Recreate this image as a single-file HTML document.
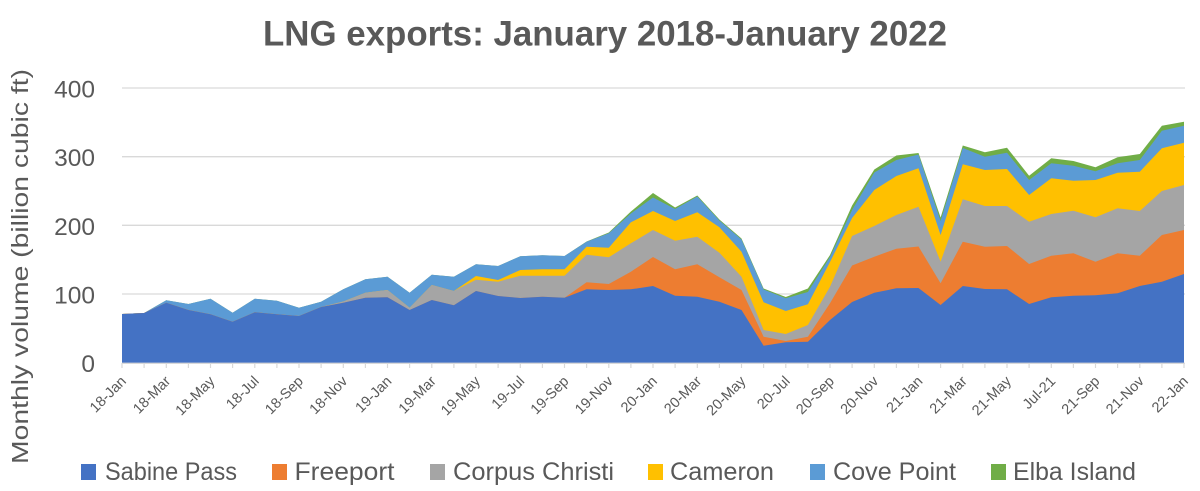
<!DOCTYPE html>
<html>
<head>
<meta charset="utf-8">
<style>
  html, body { margin: 0; padding: 0; background: #ffffff; }
  body { width: 1200px; height: 491px; overflow: hidden; }
  svg { display: block; font-family: "Liberation Sans", sans-serif; }
</style>
</head>
<body>
<svg width="1200" height="491" viewBox="0 0 1200 491" xmlns="http://www.w3.org/2000/svg">
  <rect x="0" y="0" width="1200" height="491" fill="#ffffff"/>

  <!-- Title -->
  <text x="263" y="45.7" font-size="35" font-weight="bold" fill="#595959" textLength="684" lengthAdjust="spacingAndGlyphs">LNG exports: January 2018-January 2022</text>

  <!-- Gridlines -->
  <g stroke="#d9d9d9" stroke-width="1.3">
    <line x1="122" y1="88" x2="1185" y2="88"/>
    <line x1="122" y1="156.7" x2="1185" y2="156.7"/>
    <line x1="122" y1="225.3" x2="1185" y2="225.3"/>
    <line x1="122" y1="294" x2="1185" y2="294"/>
  </g>

  <!-- Y axis labels -->
  <g font-size="24.5" fill="#595959" text-anchor="end">
    <text x="95" y="97.5">400</text>
    <text x="95" y="166.2">300</text>
    <text x="95" y="234.8">200</text>
    <text x="95" y="303.5">100</text>
    <text x="95" y="372">0</text>
  </g>

  <!-- Y axis title -->
  <text transform="translate(28,266.5) rotate(-90)" text-anchor="middle" font-size="23" fill="#595959" textLength="395" lengthAdjust="spacingAndGlyphs">Monthly volume (billion cubic ft)</text>

  <!-- Areas (drawn top cumulative first) -->
  <!-- Elba Island -->
  <polygon fill="#70AD47" points="122,314 144.1,313 166.3,300.3 188.4,304 210.5,298.7 232.6,312.7 254.8,298.7 276.9,300.7 299,307.7 321.1,301.7 343.3,289.3 365.4,279.3 387.5,276.7 409.6,292.7 431.8,274.7 453.9,276.7 476,264.3 498.1,266 520.3,256.3 542.4,255.3 564.5,256 586.6,241.5 608.8,232.5 630.9,211.5 653,193 675.1,207.5 697.3,195.5 719.4,219.5 741.5,238.5 763.6,288.5 785.8,297 807.9,288.5 830,255 852.1,205.5 874.3,169.5 896.4,155.5 918.5,153 940.6,217.5 962.8,145.5 984.9,152.3 1007,147.7 1029.1,175.7 1051.3,158.3 1073.4,161 1095.5,167.3 1117.6,157.3 1139.8,154 1161.9,125.7 1184,121.7 1184,363 122,363"/>
  <!-- Cove Point -->
  <polygon fill="#5B9BD5" points="122,314 144.1,313 166.3,300.3 188.4,304 210.5,298.7 232.6,312.7 254.8,298.7 276.9,300.7 299,307.7 321.1,301.7 343.3,289.3 365.4,279.3 387.5,276.7 409.6,292.7 431.8,274.7 453.9,276.7 476,264.3 498.1,266 520.3,256.3 542.4,255.3 564.5,256 586.6,241.7 608.8,233.3 630.9,213.5 653,197.5 675.1,209 697.3,196.5 719.4,220.5 741.5,239.5 763.6,289.5 785.8,298.3 807.9,292 830,257 852.1,210 874.3,172.5 896.4,160 918.5,154.5 940.6,221 962.8,148 984.9,156.7 1007,152.7 1029.1,180 1051.3,163.3 1073.4,165.7 1095.5,171.2 1117.6,163.3 1139.8,160 1161.9,130.7 1184,125.7 1184,363 122,363"/>
  <!-- Cameron -->
  <polygon fill="#FFC000" points="122,314 144.1,313 166.3,302.7 188.4,310 210.5,314.3 232.6,321.7 254.8,312.3 276.9,314.3 299,316 321.1,307 343.3,301.5 365.4,292.7 387.5,290 409.6,307.7 431.8,285 453.9,291 476,276 498.1,280 520.3,270 542.4,269.3 564.5,269.3 586.6,246.7 608.8,247.7 630.9,222.3 653,211 675.1,221 697.3,212.3 719.4,227.3 741.5,251.7 763.6,302.3 785.8,311 807.9,304.3 830,262 852.1,218 874.3,190 896.4,176 918.5,168.3 940.6,235 962.8,164.3 984.9,170 1007,169 1029.1,195 1051.3,178.3 1073.4,180.7 1095.5,180 1117.6,172.7 1139.8,171.7 1161.9,148.3 1184,142.7 1184,363 122,363"/>
  <!-- Corpus Christi -->
  <polygon fill="#A5A5A5" points="122,314 144.1,313 166.3,302.7 188.4,310 210.5,314.3 232.6,321.7 254.8,312.3 276.9,314.3 299,316 321.1,307 343.3,301.5 365.4,292.7 387.5,290 409.6,307.7 431.8,285 453.9,291 476,279.7 498.1,281.7 520.3,275.7 542.4,275.7 564.5,275.7 586.6,254.7 608.8,257.3 630.9,243.3 653,230 675.1,240.7 697.3,236.7 719.4,252.7 741.5,276.7 763.6,330 785.8,334 807.9,325 830,286.7 852.1,236 874.3,226 896.4,215 918.5,206.7 940.6,261.7 962.8,199.3 984.9,206 1007,206 1029.1,221.7 1051.3,214 1073.4,210.7 1095.5,217.3 1117.6,208.3 1139.8,211 1161.9,191 1184,185 1184,363 122,363"/>
  <!-- Freeport -->
  <polygon fill="#ED7D31" points="122,314 144.1,313 166.3,302.7 188.4,310 210.5,314.3 232.6,321.7 254.8,312.3 276.9,314.3 299,316 321.1,307 343.3,302.7 365.4,297.7 387.5,297.3 409.6,310 431.8,300 453.9,305.3 476,291 498.1,296 520.3,298 542.4,296.7 564.5,297.7 586.6,282.3 608.8,284 630.9,271.7 653,257 675.1,269.3 697.3,264.3 719.4,277.3 741.5,290 763.6,336.7 785.8,341 807.9,336.7 830,303.3 852.1,265.5 874.3,256.7 896.4,248.7 918.5,246.5 940.6,283.3 962.8,241.7 984.9,246.7 1007,246 1029.1,264 1051.3,255.7 1073.4,253.3 1095.5,261.7 1117.6,253.3 1139.8,255.7 1161.9,235 1184,230 1184,363 122,363"/>
  <!-- Sabine Pass -->
  <polygon fill="#4472C4" points="122,314 144.1,313 166.3,302.7 188.4,310 210.5,314.3 232.6,321.7 254.8,312.3 276.9,314.3 299,316 321.1,307 343.3,302.7 365.4,297.7 387.5,297.3 409.6,310 431.8,300 453.9,305.3 476,291 498.1,296 520.3,298 542.4,296.7 564.5,297.7 586.6,289.3 608.8,290 630.9,289.3 653,286 675.1,295.7 697.3,296.7 719.4,301.7 741.5,310 763.6,345.7 785.8,342.3 807.9,341.7 830,320 852.1,302 874.3,292.7 896.4,288.3 918.5,288 940.6,305 962.8,286 984.9,289 1007,289.3 1029.1,304 1051.3,297.3 1073.4,295.7 1095.5,295.3 1117.6,293.3 1139.8,286 1161.9,281.7 1184,274 1184,363 122,363"/>

  <!-- X axis line -->
  <line x1="122" y1="363.3" x2="1185" y2="363.3" stroke="#d9d9d9" stroke-width="1.3"/>
  <!-- Tick marks -->
  <g stroke="#d9d9d9" stroke-width="1.2">
    <line x1="122" y1="363" x2="122" y2="368"/><line x1="144.1" y1="363" x2="144.1" y2="368"/><line x1="166.3" y1="363" x2="166.3" y2="368"/><line x1="188.4" y1="363" x2="188.4" y2="368"/><line x1="210.5" y1="363" x2="210.5" y2="368"/><line x1="232.6" y1="363" x2="232.6" y2="368"/><line x1="254.8" y1="363" x2="254.8" y2="368"/><line x1="276.9" y1="363" x2="276.9" y2="368"/><line x1="299" y1="363" x2="299" y2="368"/><line x1="321.1" y1="363" x2="321.1" y2="368"/><line x1="343.3" y1="363" x2="343.3" y2="368"/><line x1="365.4" y1="363" x2="365.4" y2="368"/><line x1="387.5" y1="363" x2="387.5" y2="368"/><line x1="409.6" y1="363" x2="409.6" y2="368"/><line x1="431.8" y1="363" x2="431.8" y2="368"/><line x1="453.9" y1="363" x2="453.9" y2="368"/><line x1="476" y1="363" x2="476" y2="368"/><line x1="498.1" y1="363" x2="498.1" y2="368"/><line x1="520.3" y1="363" x2="520.3" y2="368"/><line x1="542.4" y1="363" x2="542.4" y2="368"/><line x1="564.5" y1="363" x2="564.5" y2="368"/><line x1="586.6" y1="363" x2="586.6" y2="368"/><line x1="608.8" y1="363" x2="608.8" y2="368"/><line x1="630.9" y1="363" x2="630.9" y2="368"/><line x1="653" y1="363" x2="653" y2="368"/><line x1="675.1" y1="363" x2="675.1" y2="368"/><line x1="697.3" y1="363" x2="697.3" y2="368"/><line x1="719.4" y1="363" x2="719.4" y2="368"/><line x1="741.5" y1="363" x2="741.5" y2="368"/><line x1="763.6" y1="363" x2="763.6" y2="368"/><line x1="785.8" y1="363" x2="785.8" y2="368"/><line x1="807.9" y1="363" x2="807.9" y2="368"/><line x1="830" y1="363" x2="830" y2="368"/><line x1="852.1" y1="363" x2="852.1" y2="368"/><line x1="874.3" y1="363" x2="874.3" y2="368"/><line x1="896.4" y1="363" x2="896.4" y2="368"/><line x1="918.5" y1="363" x2="918.5" y2="368"/><line x1="940.6" y1="363" x2="940.6" y2="368"/><line x1="962.8" y1="363" x2="962.8" y2="368"/><line x1="984.9" y1="363" x2="984.9" y2="368"/><line x1="1007" y1="363" x2="1007" y2="368"/><line x1="1029.1" y1="363" x2="1029.1" y2="368"/><line x1="1051.3" y1="363" x2="1051.3" y2="368"/><line x1="1073.4" y1="363" x2="1073.4" y2="368"/><line x1="1095.5" y1="363" x2="1095.5" y2="368"/><line x1="1117.6" y1="363" x2="1117.6" y2="368"/><line x1="1139.8" y1="363" x2="1139.8" y2="368"/><line x1="1161.9" y1="363" x2="1161.9" y2="368"/><line x1="1184" y1="363" x2="1184" y2="368"/>
  </g>

  <!-- X tick labels -->
  <g font-size="14.5" fill="#595959" text-anchor="end">
    <text transform="translate(127,382) rotate(-45)">18-Jan</text>
    <text transform="translate(171.3,382) rotate(-45)">18-Mar</text>
    <text transform="translate(215.5,382) rotate(-45)">18-May</text>
    <text transform="translate(259.8,382) rotate(-45)">18-Jul</text>
    <text transform="translate(304,382) rotate(-45)">18-Sep</text>
    <text transform="translate(348.3,382) rotate(-45)">18-Nov</text>
    <text transform="translate(392.5,382) rotate(-45)">19-Jan</text>
    <text transform="translate(436.8,382) rotate(-45)">19-Mar</text>
    <text transform="translate(481,382) rotate(-45)">19-May</text>
    <text transform="translate(525.3,382) rotate(-45)">19-Jul</text>
    <text transform="translate(569.5,382) rotate(-45)">19-Sep</text>
    <text transform="translate(613.8,382) rotate(-45)">19-Nov</text>
    <text transform="translate(658,382) rotate(-45)">20-Jan</text>
    <text transform="translate(702.3,382) rotate(-45)">20-Mar</text>
    <text transform="translate(746.5,382) rotate(-45)">20-May</text>
    <text transform="translate(790.8,382) rotate(-45)">20-Jul</text>
    <text transform="translate(835,382) rotate(-45)">20-Sep</text>
    <text transform="translate(879.3,382) rotate(-45)">20-Nov</text>
    <text transform="translate(923.5,382) rotate(-45)">21-Jan</text>
    <text transform="translate(967.8,382) rotate(-45)">21-Mar</text>
    <text transform="translate(1012,382) rotate(-45)">21-May</text>
    <text transform="translate(1056.3,382) rotate(-45)">Jul-21</text>
    <text transform="translate(1100.5,382) rotate(-45)">21-Sep</text>
    <text transform="translate(1144.8,382) rotate(-45)">21-Nov</text>
    <text transform="translate(1189,382) rotate(-45)">22-Jan</text>
  </g>

  <!-- Legend -->
  <g font-size="25" fill="#595959">
    <rect x="81" y="464" width="15" height="16" fill="#4472C4"/>
    <text x="105" y="480" textLength="132" lengthAdjust="spacingAndGlyphs">Sabine Pass</text>
    <rect x="272" y="464" width="15" height="16" fill="#ED7D31"/>
    <text x="294.5" y="480" textLength="100" lengthAdjust="spacingAndGlyphs">Freeport</text>
    <rect x="430" y="464" width="15" height="16" fill="#A5A5A5"/>
    <text x="453" y="480" textLength="161" lengthAdjust="spacingAndGlyphs">Corpus Christi</text>
    <rect x="648" y="464" width="15" height="16" fill="#FFC000"/>
    <text x="670" y="480" textLength="104" lengthAdjust="spacingAndGlyphs">Cameron</text>
    <rect x="810" y="464" width="15" height="16" fill="#5B9BD5"/>
    <text x="833" y="480" textLength="123" lengthAdjust="spacingAndGlyphs">Cove Point</text>
    <rect x="991" y="464" width="15" height="16" fill="#70AD47"/>
    <text x="1013" y="480" textLength="123" lengthAdjust="spacingAndGlyphs">Elba Island</text>
  </g>
</svg>
</body>
</html>
